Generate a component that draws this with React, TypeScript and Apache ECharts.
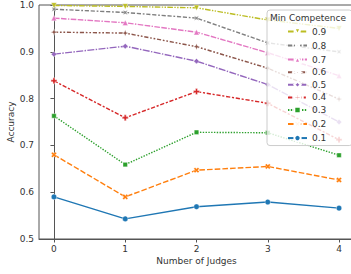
import React, { useEffect, useRef } from "react";
import * as echarts from "echarts";

const judges = [0, 1, 2, 3, 4];
const competence = ["0.1", "0.2", "0.3", "0.4", "0.5", "0.6", "0.7", "0.8", "0.9"];
const acc01 = [0.590, 0.543, 0.569, 0.579, 0.566];
const acc02 = [0.680, 0.590, 0.647, 0.655, 0.626];
const acc03 = [0.763, 0.659, 0.728, 0.727, 0.679];
const acc04 = [0.838, 0.759, 0.815, 0.790, 0.712];
const acc05 = [0.895, 0.912, 0.880, 0.830, 0.750];
const acc06 = [0.942, 0.940, 0.911, 0.865, 0.799];
const acc07 = [0.972, 0.962, 0.942, 0.898, 0.849];
const acc08 = [0.991, 0.984, 0.972, 0.919, 0.900];
const acc09 = [0.999, 0.997, 0.994, 0.968, 0.950];
const yTicks = [0.5, 0.6, 0.7, 0.8, 0.9, 1.0];

const allAcc = [acc01, acc02, acc03, acc04, acc05, acc06, acc07, acc08, acc09];
const colors = ["#1f77b4", "#ff7f0e", "#2ca02c", "#d62728", "#9467bd", "#8c564b", "#e377c2", "#7f7f7f", "#bcbd22"];
const s = 1.4;
const dashes: any[] = [
  "solid",
  [4, 1.5].map((d) => d * s),
  [1, 1].map((d) => d * s),
  [3, 1.25, 1.5, 1.25].map((d) => d * s),
  [5, 1, 1, 1].map((d) => d * s),
  [3, 1.25, 1.25, 1.25, 1.25, 1.25].map((d) => d * s),
  [4, 1, 4, 1, 1, 1].map((d) => d * s),
  [3, 1.25, 3, 1.25, 1.25, 1.25].map((d) => d * s),
  [4, 1, 1, 1, 1, 1].map((d) => d * s),
];
const plusPath = "path://M-1,-3H1V-1H3V1H1V3H-1V1H-3V-1H-1Z";
const starPath = "path://M0,-3L0.8,-0.8L3,0L0.8,0.8L0,3L-0.8,0.8L-3,0L-0.8,-0.8Z";
const symbols = ["circle", plusPath, "rect", plusPath, "diamond", starPath, "triangle", starPath, "triangle"];
const rotates = [0, 45, 0, 0, 0, 0, 0, 45, 180];
const sizes = [5.5, 6, 4.5, 6, 5.5, 6.5, 5.5, 6.5, 5.5];

export default function App() {
  const ref = useRef<HTMLDivElement>(null);
  useEffect(() => {
    if (!ref.current) return;
    const chart = echarts.init(ref.current, null, { renderer: "svg" });
    const font = "DejaVu Sans";
    const series = competence.map((c, i) => ({
      name: c,
      type: "line",
      data: judges.map((x, j) => [x, allAcc[i][j]]),
      symbol: symbols[i],
      symbolRotate: rotates[i],
      symbolSize: sizes[i],
      lineStyle: { color: colors[i], width: 1.4, type: dashes[i] },
      itemStyle: { color: colors[i], borderColor: "#fff", borderWidth: 0.4 },
      emphasis: { disabled: true },
      z: 2 + i * 0.01,
    }));
    chart.setOption({
      animation: false,
      grid: {
        left: 39,
        top: 5,
        width: 315,
        height: 234,
        show: true,
        borderColor: "#555",
        borderWidth: 1,
        containLabel: false,
        outerBoundsMode: "none",
      },
      xAxis: {
        type: "value",
        min: -0.21,
        max: 4.21,
        splitLine: { show: false },
        axisLine: { show: true, lineStyle: { color: "#555", width: 1 } },
        axisTick: { show: true, length: 3.5, customValues: judges, lineStyle: { color: "#555" } },
        axisLabel: {
          customValues: judges,
          margin: 5,
          fontSize: 9,
          color: "#333",
          fontFamily: font,
          formatter: (v: number) => String(v),
        },
        name: "Number of Judges",
        nameLocation: "middle",
        nameGap: 22,
        nameMoveOverlap: false,
        nameTextStyle: { fontSize: 9, color: "#333", fontFamily: font, verticalAlign: "middle" },
      },
      yAxis: {
        type: "value",
        min: 0.5,
        max: 1.0,
        interval: 0.1,
        splitLine: { show: false },
        axisLine: { show: true, lineStyle: { color: "#555", width: 1 } },
        axisTick: { show: true, length: 3.5, lineStyle: { color: "#555" } },
        axisLabel: {
          margin: 5,
          fontSize: 9,
          color: "#333",
          fontFamily: font,
          formatter: (v: number) => v.toFixed(1),
          customValues: yTicks,
        },
        name: "Accuracy",
        nameLocation: "middle",
        nameGap: 28,
        nameMoveOverlap: false,
        nameTextStyle: { fontSize: 9, color: "#333", fontFamily: font, verticalAlign: "middle" },
      },
      legend: {
        data: competence.slice().reverse(),
        orient: "vertical",
        left: 267,
        top: 10,
        padding: [17, 26, 3, 20],
        itemWidth: 19,
        itemHeight: 8,
        itemGap: 3.6,
        textStyle: { fontSize: 9, color: "#333", fontFamily: font },
        backgroundColor: "rgba(255,255,255,0.8)",
        borderColor: "#ccc",
        borderWidth: 1,
        borderRadius: 3,
        selectedMode: false,
        z: 10,
      },
      graphic: [
        {
          type: "text",
          z: 100,
          style: {
            text: "Min Competence",
            x: 308,
            y: 18,
            align: "center",
            verticalAlign: "middle",
            fontSize: 9,
            fill: "#333",
            fontFamily: font,
          },
        },
      ],
      series,
    });
    return () => chart.dispose();
  }, []);
  return <div ref={ref} style={{ width: 351, height: 274, position: "absolute", left: 0, top: 0 }} />;
}
